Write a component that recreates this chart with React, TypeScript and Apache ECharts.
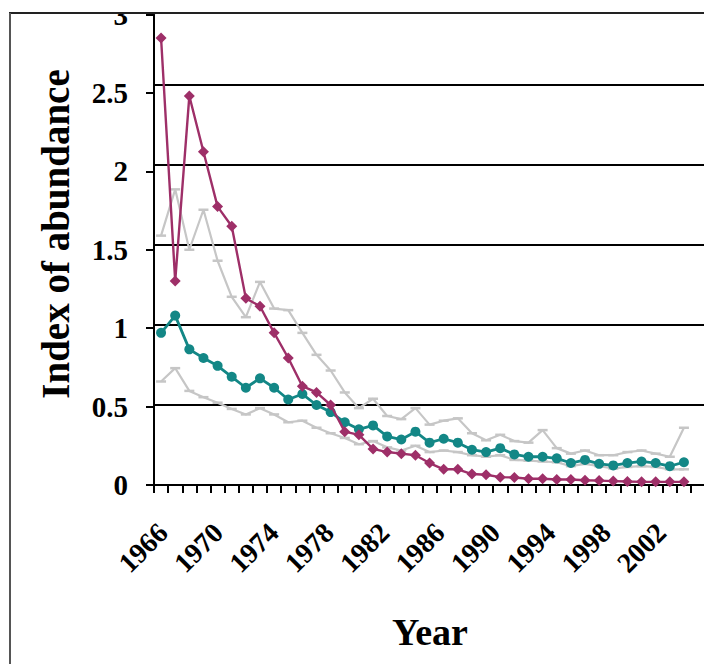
import React, { useEffect, useRef } from "react";
import * as echarts from "echarts";

const years = [
  "1966", "1967", "1968", "1969", "1970", "1971", "1972", "1973", "1974", "1975",
  "1976", "1977", "1978", "1979", "1980", "1981", "1982", "1983", "1984", "1985",
  "1986", "1987", "1988", "1989", "1990", "1991", "1992", "1993", "1994", "1995",
  "1996", "1997", "1998", "1999", "2000", "2001", "2002", "2003",
];

const magentaIndex = [
  2.85, 1.3, 2.48, 2.125, 1.775, 1.65, 1.19, 1.14, 0.97, 0.81,
  0.63, 0.59, 0.51, 0.34, 0.32, 0.23, 0.21, 0.2, 0.19, 0.14,
  0.1, 0.1, 0.07, 0.065, 0.05, 0.048, 0.04, 0.04, 0.035, 0.035,
  0.03, 0.028, 0.025, 0.022, 0.02, 0.02, 0.02, 0.02,
];

const tealIndex = [
  0.97, 1.08, 0.865, 0.81, 0.76, 0.69, 0.62, 0.68, 0.62, 0.545,
  0.58, 0.51, 0.465, 0.4, 0.355, 0.38, 0.31, 0.29, 0.34, 0.27,
  0.295, 0.27, 0.225, 0.21, 0.235, 0.195, 0.18, 0.18, 0.17, 0.14,
  0.16, 0.135, 0.125, 0.14, 0.15, 0.14, 0.12, 0.145,
];

const upperLimit = [
  1.59, 1.885, 1.5, 1.755, 1.43, 1.2, 1.07, 1.295, 1.125, 1.115,
  0.97, 0.83, 0.73, 0.59, 0.49, 0.55, 0.44, 0.42, 0.49, 0.385,
  0.41, 0.425, 0.33, 0.285, 0.32, 0.28, 0.27, 0.35, 0.235, 0.2,
  0.22, 0.19, 0.19, 0.21, 0.22, 0.2, 0.18, 0.365,
];

const lowerLimit = [
  0.66, 0.745, 0.6, 0.56, 0.525, 0.485, 0.45, 0.49, 0.45, 0.4,
  0.41, 0.365, 0.33, 0.3, 0.26, 0.28, 0.24, 0.22, 0.25, 0.21,
  0.22, 0.21, 0.19, 0.18, 0.19, 0.16, 0.155, 0.15, 0.145, 0.12,
  0.135, 0.12, 0.105, 0.115, 0.12, 0.115, 0.1, 0.1,
];

const FONT = "'Liberation Serif', 'Times New Roman', serif";
const MAGENTA = "#9E2F68";
const TEAL = "#138786";
const GREY = "#C6C6C6";

export default function App() {
  const ref = useRef<HTMLDivElement>(null);

  useEffect(() => {
    const chart = echarts.init(ref.current!, null, { renderer: "svg" });
    const greySeries = (name: string, data: number[]) => ({
      name,
      type: "line",
      xAxisIndex: 0,
      yAxisIndex: 0,
      data,
      symbol: "rect",
      symbolSize: [10, 2.5],
      showAllSymbol: true,
      lineStyle: { color: GREY, width: 2.2 },
      itemStyle: { color: GREY },
      z: 2,
    });
    chart.setOption({
      animation: false,
      backgroundColor: "#ffffff",
      grid: [
        { left: 154, top: 5, right: 13, bottom: 179 },
        { left: 154, top: 5, right: 0, bottom: 179 },
        { left: 156, top: 5, right: 22, bottom: 179 },
      ],
      xAxis: [
        {
          type: "category",
          gridIndex: 0,
          data: years,
          boundaryGap: true,
          axisLine: { lineStyle: { color: "#000", width: 2 } },
          axisTick: { show: true, interval: 0, length: 8, lineStyle: { color: "#000", width: 2 } },
          axisLabel: { show: false },
        },
        { type: "value", gridIndex: 1, show: false, min: 0, max: 1 },
        {
          type: "category",
          gridIndex: 2,
          data: years,
          boundaryGap: true,
          axisLine: { show: false },
          axisTick: { show: false },
          axisLabel: {
            interval: 3,
            rotate: 45,
            fontFamily: FONT,
            fontWeight: "bold",
            fontSize: 28,
            color: "#000",
            margin: 43,
          },
        },
      ],
      yAxis: [
        {
          type: "value",
          gridIndex: 0,
          min: 0,
          max: 3,
          interval: 0.5,
          axisLine: { show: true, lineStyle: { color: "#000", width: 2 } },
          axisTick: { show: true, length: 8, lineStyle: { color: "#000", width: 2 } },
          axisLabel: {
            fontFamily: FONT,
            fontWeight: "bold",
            fontSize: 29,
            color: "#000",
            margin: 26,
          },
          splitLine: { show: false },
        },
        {
          type: "value",
          gridIndex: 1,
          min: 0,
          max: 3,
          interval: 0.5,
          axisLine: { show: false },
          axisTick: { show: false },
          axisLabel: { show: false },
          splitLine: { show: true, lineStyle: { color: "#000", width: 2 } },
        },
        { type: "value", gridIndex: 2, show: false, min: 0, max: 1 },
      ],
      series: [
        greySeries("Upper limit", upperLimit),
        greySeries("Lower limit", lowerLimit),
        {
          name: "Index (circles)",
          type: "line",
          data: tealIndex,
          symbol: "circle",
          symbolSize: 10,
          showAllSymbol: true,
          lineStyle: { color: TEAL, width: 2.8 },
          itemStyle: { color: TEAL },
          z: 3,
        },
        {
          name: "Index (diamonds)",
          type: "line",
          data: magentaIndex,
          symbol: "diamond",
          symbolSize: 11,
          showAllSymbol: true,
          lineStyle: { color: MAGENTA, width: 2.4 },
          itemStyle: { color: MAGENTA },
          z: 4,
        },
      ],
      graphic: [
        { type: "rect", shape: { x: 0, y: 0, width: 704, height: 12 }, style: { fill: "#fff" }, z: 100 },
        { type: "line", shape: { x1: 9, y1: 13, x2: 704, y2: 13 }, style: { stroke: "#222", lineWidth: 2 }, z: 101 },
        { type: "line", shape: { x1: 10, y1: 13, x2: 10, y2: 664 }, style: { stroke: "#555", lineWidth: 2 }, z: 101 },
        {
          type: "text",
          x: 55,
          y: 234,
          rotation: Math.PI / 2,
          style: {
            text: "Index of abundance",
            fontFamily: FONT,
            fontWeight: "bold",
            fontSize: 39,
            fill: "#000",
            align: "center",
            verticalAlign: "middle",
          },
          z: 101,
        },
        {
          type: "text",
          x: 430,
          y: 632,
          style: {
            text: "Year",
            fontFamily: FONT,
            fontWeight: "bold",
            fontSize: 38,
            fill: "#000",
            align: "center",
            verticalAlign: "middle",
          },
          z: 101,
        },
      ],
    });
    return () => chart.dispose();
  }, []);

  return (
    <div
      ref={ref}
      style={{ position: "fixed", left: 0, top: 0, width: 704, height: 664, background: "#fff" }}
    />
  );
}
